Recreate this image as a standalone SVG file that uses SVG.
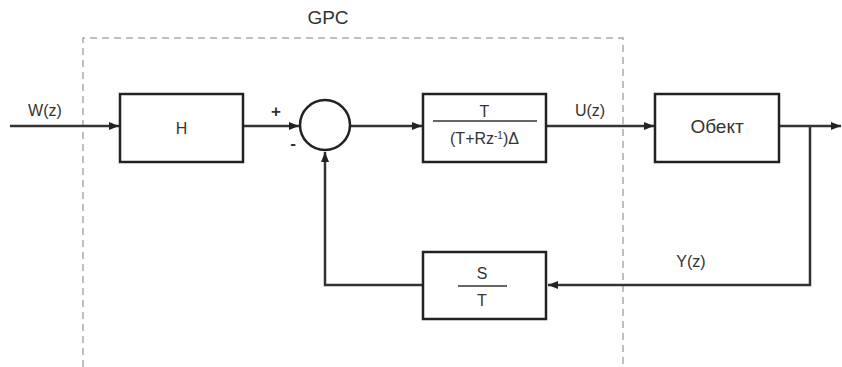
<svg xmlns="http://www.w3.org/2000/svg" width="842" height="367" viewBox="0 0 842 367">
<style>
.box{fill:#fff;stroke:#222;stroke-width:2.5}
.ln{fill:none;stroke:#333;stroke-width:2.5}
.dash{fill:none;stroke:#aaa;stroke-width:1.5;stroke-dasharray:7 5}
text{font-family:"Liberation Sans",Arial,sans-serif;fill:#333}
.lbl{font-size:16px}
.big{font-size:19px}
.sign{font-size:17px;font-weight:bold}
</style>
<defs>
<marker id="ah" viewBox="0 0 10 8" refX="10" refY="4" markerWidth="10" markerHeight="8" markerUnits="userSpaceOnUse" orient="auto">
<path d="M0,0 L10,4 L0,8 Z" fill="#222"/>
</marker>
</defs>
<rect width="842" height="367" fill="#fff"/>
<g id="gpc-boundary">
<path class="dash" d="M83,367 V38 H623 V367"/>
<text x="328" y="24" text-anchor="middle" style="font-size:19px">GPC</text>
</g>
<g id="connectors">
<line class="ln" x1="10" y1="126" x2="119" y2="126" marker-end="url(#ah)"/>
<line class="ln" x1="243" y1="126" x2="299" y2="126" marker-end="url(#ah)"/>
<line class="ln" x1="350" y1="126" x2="422" y2="126" marker-end="url(#ah)"/>
<line class="ln" x1="546" y1="126" x2="654" y2="126" marker-end="url(#ah)"/>
<line class="ln" x1="779" y1="126" x2="841" y2="126" marker-end="url(#ah)"/>
<path class="ln" d="M810,126 V285 H548" marker-end="url(#ah)"/>
<path class="ln" d="M423,285 H325 V152" marker-end="url(#ah)"/>
<text class="lbl" x="45" y="116" text-anchor="middle">W(z)</text>
<text class="lbl" x="590" y="116" text-anchor="middle">U(z)</text>
<text class="lbl" x="691" y="267" text-anchor="middle">Y(z)</text>
<text class="sign" x="276" y="117" text-anchor="middle">+</text>
<text class="sign" x="293" y="149" text-anchor="middle">-</text>
</g>
<g id="node-H">
<rect class="box" x="120" y="94" width="123" height="68"/>
<text class="lbl" x="181.5" y="134" text-anchor="middle">H</text>
</g>
<g id="node-sum">
<circle class="box" cx="325" cy="125" r="25"/>
</g>
<g id="node-controller">
<rect class="box" x="423" y="94" width="123" height="68"/>
<text class="lbl" x="484.5" y="117" text-anchor="middle">T</text>
<line x1="433" y1="121" x2="537" y2="121" stroke="#333" stroke-width="1.5"/>
<text class="lbl" x="484.5" y="144" text-anchor="middle">(T+Rz<tspan dy="-5" style="font-size:10px">-1</tspan><tspan dy="5">)Δ</tspan></text>
</g>
<g id="node-object">
<rect class="box" x="655" y="94" width="124" height="68"/>
<text class="big" x="717" y="133" text-anchor="middle">Обект</text>
</g>
<g id="node-feedback">
<rect class="box" x="423" y="252" width="123" height="67"/>
<text class="lbl" x="482" y="279" text-anchor="middle">S</text>
<line x1="458" y1="286" x2="507" y2="286" stroke="#333" stroke-width="1.5"/>
<text class="lbl" x="482" y="306" text-anchor="middle">T</text>
</g>
</svg>
